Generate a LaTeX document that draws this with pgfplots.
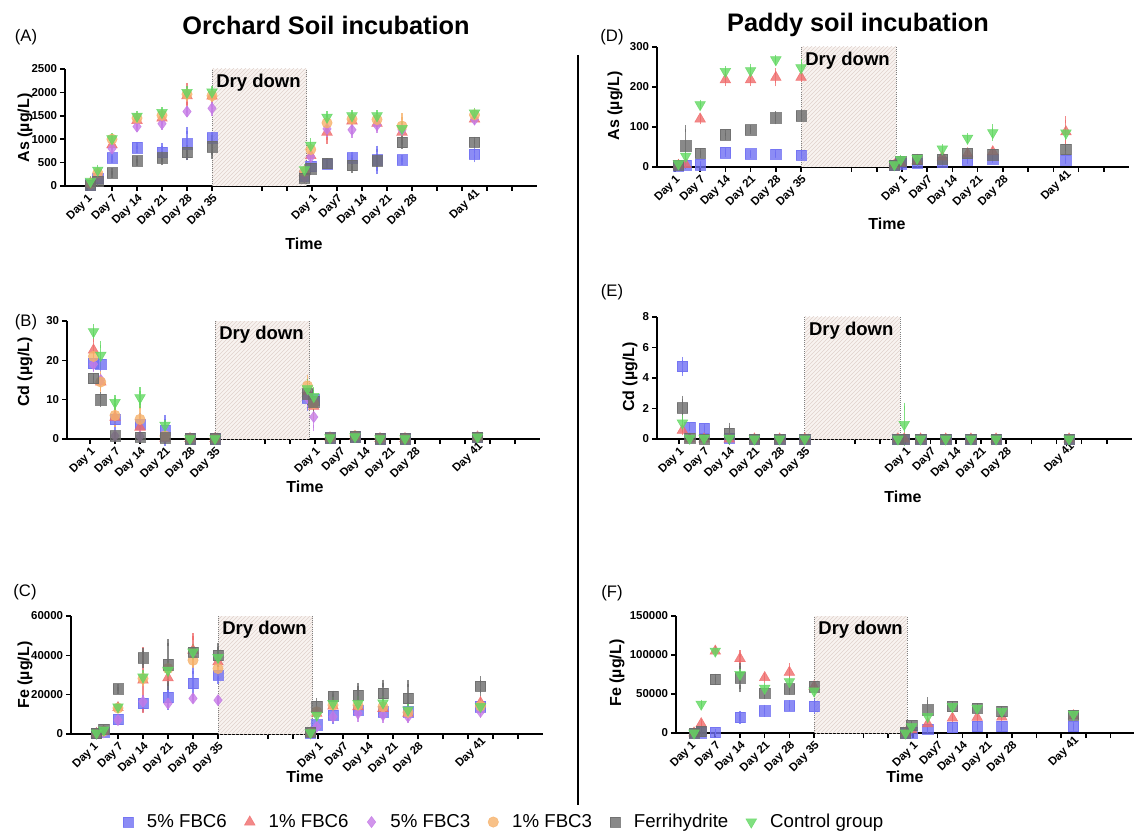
\documentclass[border=0pt]{standalone}
\usepackage{fontspec}
\setmainfont{Liberation Sans}
\usepackage{pgfplots}
\pgfplotsset{compat=1.18}
\usepackage{pgfplotstable}
\usetikzlibrary{patterns}

\definecolor{c1}{HTML}{6F6FF2}
\definecolor{c2}{HTML}{EF6B6B}
\definecolor{c3}{HTML}{C57BE6}
\definecolor{c4}{HTML}{F6B16A}
\definecolor{c5}{HTML}{6B6B6B}
\definecolor{c6}{HTML}{62D862}
\definecolor{drybg}{HTML}{F8F3F0}
\definecolor{hatch}{HTML}{E0D2CC}

\newcommand{\tickfont}{\bfseries\fontsize{8.6}{10}\selectfont}
\newcommand{\labfont}{\bfseries\fontsize{12}{14}\selectfont}
\newcommand{\legfont}{\fontsize{14}{16}\selectfont}
\newcommand{\dryfont}{\bfseries\fontsize{13.9}{16}\selectfont}

% orchard: x, 5% FBC6, 1% FBC6, 5% FBC3, 1% FBC3, Ferrihydrite, Control (value, error)
\pgfplotstableread{
x a ea b eb c ec d ed f ef g eg
1.14 30 20 60 20 40 20 50 20 20 20 100 30
1.43 160 40 250 40 200 30 280 40 100 30 340 40
2 600 40 880 40 800 40 1000 40 280 30 1010 40
3 820 40 1400 50 1270 50 1450 40 540 30 1490 40
4 720 130 1450 60 1330 50 1510 50 600 80 1570 40
5 900 280 1930 200 1590 40 1960 60 720 80 2000 60
6 1030 60 1920 80 1660 100 1930 60 840 180 2010 60
9.7 220 40 300 40 200 40 310 40 170 40 350 40
9.95 420 60 650 80 620 70 780 80 370 60 870 80
10.6 470 40 1150 170 1220 100 1350 80 480 40 1470 50
11.6 600 60 1390 80 1200 90 1430 60 440 90 1500 40
12.6 560 230 1340 100 1300 90 1420 70 540 60 1500 40
13.6 560 30 1150 100 1200 90 1280 200 930 60 1230 80
16.5 680 100 1430 60 1420 40 1520 40 940 40 1560 40
}\tA

\pgfplotstableread{
x a ea b eb c ec d ed f ef g eg
1.14 19.2 1.0 22.6 3.0 19.0 1.0 21.0 1.5 15.4 0.5 27.3 1.0
1.43 19.0 1.0 14.5 1.5 15.0 1.0 14.5 2.0 10.0 1.0 21.3 2.7
2 5.0 2.0 5.5 1.5 0.8 0.2 6.0 2.0 0.8 0.2 9.3 1.0
3 3.8 2.0 3.0 2.0 0.7 0.2 5.0 3.5 0.5 0.2 10.5 1.8
4 2.2 3.0 0.2 0.1 0.3 0.1 0.8 0.5 0.3 0.1 3.5 0.5
5 0.1 0 0.1 0 0.1 0 0.1 0 0.1 0 0.1 0
6 0.1 0 0.1 0 0.1 0 0.1 0 0.1 0 0.1 0
9.7 10.5 2.5 12.0 2.0 10.5 1.5 13.5 2.0 11.5 2.0 12.8 1.5
9.95 10.0 2.0 8.3 2.0 5.6 2.8 9.0 3.0 9.5 2.0 10.8 1.5
10.6 0.3 0 0.3 0 0.3 0 0.3 0 0.3 0 0.3 0
11.6 0.6 0 0.6 0 0.6 0 0.8 0 0.6 0 0.6 0
12.6 0.1 0 0.1 0 0.1 0 0.1 0 0.1 0 0.1 0
13.6 0.1 0 0.1 0 0.1 0 0.1 0 0.1 0 0.1 0
16.5 0.5 0 0.5 0 0.5 0 0.5 0 0.5 0 0.5 0
}\tB

\pgfplotstableread{
x a ea b eb c ec d ed f ef g eg
1.14 300 200 300 200 200 100 300 200 300 200 500 200
1.43 900 300 1200 300 800 300 1500 300 2500 400 2000 400
2 7400 1000 13400 800 7100 800 13200 800 23000 800 13800 800
3 15500 2500 27400 15000 16400 1500 28200 2000 38700 3500 29000 2000
4 18600 4500 28600 2500 15500 1000 33300 2000 35300 11000 32400 2500
5 25700 6500 42600 7000 18100 800 37500 2000 41700 1500 41700 2500
6 29900 2500 36700 2000 17200 500 33300 2000 40000 4300 38900 2000
9.7 500 300 500 300 300 200 700 300 1000 300 700 300
9.95 4600 1000 10500 1500 3700 600 11300 1500 13900 2500 9600 1500
10.6 9600 2500 14200 1500 8800 1000 14700 1500 19300 1000 15500 1500
11.6 12100 2500 13900 1500 10500 2500 14700 1500 19700 4500 15500 2000
12.6 11300 2500 13000 1500 9600 2000 13900 1500 20600 5300 15800 2000
13.6 11300 3000 10500 2000 8800 1500 11000 1500 18100 7500 12200 2000
16.5 13900 1500 15900 1500 11300 1500 14200 1500 24300 3400 14000 1500
}\tC

% paddy: x, 5% FBC6, 1% FBC6, Ferrihydrite, Control (value, error)
\pgfplotstableread{
x a ea b eb f ef g eg
1.14 3 1 4 1 5 2 8 3
1.43 5 1 6 2 53 43 27 5
2 6 1 120 5 35 3 156 4
3 36 2 218 6 81 4 239 5
4 33 2 218 6 93 3 241 9
5 32 2 224 14 123 8 268 4
6 30 2 224 4 128 5 248 14
9.7 4 1 5 1 5 1 6 1
9.95 8 1 10 2 15 3 19 3
10.6 10 2 15 2 19 3 22 3
11.6 12 2 25 3 20 3 45 3
12.6 17 2 33 3 34 3 72 4
13.6 20 2 38 4 31 3 86 12
16.5 17 2 88 30 44 5 85 10
}\tD

\pgfplotstableread{
x a ea b eb f ef g eg
1.14 4.75 0.4 0.57 0.1 2.05 0.55 1.05 0.3
1.43 0.77 0.05 0 0 0.05 0 0.05 0
2 0.7 0.05 0 0 0 0 0.05 0
3 0.05 0 0 0 0.35 0.5 0.05 0
4 0 0 0 0 0 0 0 0
5 0 0 0 0 0 0 0 0
6 0 0 0 0 0 0 0 0
9.7 0 0 0 0 0 0 0 0
9.95 0 0 0 0 0 0 0.95 1.2
10.6 0 0 0 0 0 0 0 0
11.6 0 0 0 0 0 0 0 0
12.6 0 0 0 0 0 0 0 0
13.6 0 0 0 0 0 0 0 0
16.5 0 0 0 0 0 0 0 0
}\tE

\pgfplotstableread{
x a ea b eb f ef g eg
1.14 0 0 0 0 0 0 0 0
1.43 500 300 11900 1000 2000 500 37000 1500
2 800 300 105000 2000 68800 3000 105000 2000
3 20000 4000 95600 6000 71000 14500 75200 3000
4 28500 3500 71000 2000 51000 3000 57400 2000
5 34800 2500 77800 7000 56500 3000 65900 2000
6 34000 5000 59500 2000 59500 2000 54000 2000
9.7 0 0 0 0 500 300 0 0
9.95 500 300 4000 1000 9800 1500 8000 1000
10.6 5100 1000 11900 1500 29700 12000 21200 2000
11.6 7200 1000 19100 1500 34000 2000 34000 2000
12.6 8500 1000 20000 1500 31900 2000 31900 2000
13.6 8500 1000 20400 1500 27600 2000 27600 2000
16.5 8500 1000 22100 1500 23000 1500 24000 1500
}\tF

\pgfplotsset{
  panel/.style={
    scale only axis, anchor=south west,
    axis lines=left,
    axis line style={-, line width=1.5pt},
    every tick/.style={black, line width=1.2pt},
    major tick length=3.75pt,
    tick align=outside,
    scaled y ticks=false,
    ymin=0, xmax=19, clip=false,
    xtick={1,2,3,4,5,6,8,9,10,11,12,13,14,15,16,17,18},
    xticklabels={Day 1,Day 7,Day 14,Day 21,Day 28,Day 35,,,Day 1,Day7,Day 14,Day 21,Day 28,,,,},
    extra x ticks={16.5}, extra x tick labels={Day 41},
    extra x tick style={major tick length=0pt},
    xticklabel style={rotate=45, anchor=north east, font=\tickfont, inner sep=1pt},
    yticklabel style={font=\tickfont, inner sep=2pt},
    legend image code/.code={\path (0pt,0pt) (18pt,0pt);
      \draw[mark repeat=2,mark phase=2,#1] plot coordinates {(0pt,0pt) (6pt,0pt) (16pt,0pt)};},
  },
  eb/.style={error bars/.cd, y dir=both, y explicit,
    error bar style={line width=0.8pt, opacity=0.8},
    error mark options={line width=0.8pt, mark size=2.6pt, opacity=0.8}},
  s1/.style={only marks, color=c1, mark=square*, mark size=3.9pt, mark options={opacity=0.8}, eb},
  s2/.style={only marks, color=c2, mark=triangle*, mark size=4.6pt, mark options={opacity=0.8}, eb},
  s3/.style={only marks, color=c3, mark=diamond*, mark size=4.2pt, mark options={opacity=0.8}, eb},
  s4/.style={only marks, color=c4, mark=*, mark size=3.9pt, mark options={opacity=0.8}, eb},
  s5/.style={only marks, color=c5, mark=square*, mark size=3.9pt, mark options={opacity=0.8}, eb},
  s6/.style={only marks, color=c6, mark=triangle*, mark size=4.6pt, mark options={rotate=180, opacity=0.8}, eb},
}

\newcommand{\drybox}[2]{%
  \fill[drybg] (axis cs:6,0) rectangle (axis cs:9.78,#1);
  \fill[pattern=north east lines, pattern color=hatch] (axis cs:6,0) rectangle (axis cs:9.78,#1);
  \draw[densely dotted, gray, line width=0.6pt] (axis cs:6,0) -- (axis cs:6,#1) (axis cs:9.78,0) -- (axis cs:9.78,#1);
  \node[anchor=base west, inner sep=0pt, font=\dryfont, xshift=3pt, yshift=-#2] at (axis cs:6,#1) {Dry down};
}

\begin{document}
\begin{tikzpicture}
\useasboundingbox (0,0) rectangle (850.5pt,-625.5pt);

% (A) orchard As
\begin{axis}[panel, at={(48.75pt,-139.5pt)}, width=354pt, height=87.75pt,
  xmin=0.12, ymax=2500, ytick={0,500,1000,1500,2000,2500},
  yticklabels={0,500,1000,1500,2000,2500}]
  \drybox{2500}{14pt}
  \addplot[s1] table[x=x, y=a, y error=ea] {\tA};
  \addplot[s2] table[x=x, y=b, y error=eb] {\tA};
  \addplot[s3] table[x=x, y=c, y error=ec] {\tA};
  \addplot[s4] table[x=x, y=d, y error=ed] {\tA};
  \addplot[s5] table[x=x, y=f, y error=ef] {\tA};
  \addplot[s6] table[x=x, y=g, y error=eg] {\tA};
\end{axis}

% (B) orchard Cd
\begin{axis}[panel, at={(50.25pt,-329.25pt)}, width=354.75pt, height=88.5pt,
  xmin=0.08, ymax=30, ytick={0,10,20,30}, yticklabels={0,10,20,30}]
  \drybox{30}{14pt}
  \addplot[s1] table[x=x, y=a, y error=ea] {\tB};
  \addplot[s2] table[x=x, y=b, y error=eb] {\tB};
  \addplot[s3] table[x=x, y=c, y error=ec] {\tB};
  \addplot[s4] table[x=x, y=d, y error=ed] {\tB};
  \addplot[s5] table[x=x, y=f, y error=ef] {\tB};
  \addplot[s6] table[x=x, y=g, y error=eg] {\tB};
\end{axis}

% (C) orchard Fe, carries the legend
\begin{axis}[panel, at={(53.25pt,-550.5pt)}, width=354pt, height=88.5pt,
  xmin=0.12, ymax=60000, ytick={0,20000,40000,60000},
  yticklabels={0,20000,40000,60000},
  legend style={at={(0.915,-0.746)}, anchor=center, draw=none, fill=none,
    legend columns=6, font=\legfont,
    /tikz/every even column/.append style={column sep=9pt}}]
  \drybox{60000}{14pt}
  \addplot[s1] table[x=x, y=a, y error=ea] {\tC};
  \addlegendentry{5\% FBC6}
  \addplot[s2] table[x=x, y=b, y error=eb] {\tC};
  \addlegendentry{1\% FBC6}
  \addplot[s3] table[x=x, y=c, y error=ec] {\tC};
  \addlegendentry{5\% FBC3}
  \addplot[s4] table[x=x, y=d, y error=ed] {\tC};
  \addlegendentry{1\% FBC3}
  \addplot[s5] table[x=x, y=f, y error=ef] {\tC};
  \addlegendentry{Ferrihydrite}
  \addplot[s6] table[x=x, y=g, y error=eg] {\tC};
  \addlegendentry{Control group}
\end{axis}

% (D) paddy As
\begin{axis}[panel, at={(492.75pt,-125.25pt)}, width=354pt, height=90pt,
  xmin=0.29, ymax=300, ytick={0,100,200,300}, yticklabels={0,100,200,300}]
  \drybox{300}{14pt}
  \addplot[s1] table[x=x, y=a, y error=ea] {\tD};
  \addplot[s2] table[x=x, y=b, y error=eb] {\tD};
  \addplot[s5] table[x=x, y=f, y error=ef] {\tD};
  \addplot[s6] table[x=x, y=g, y error=eg] {\tD};
\end{axis}

% (E) paddy Cd
\begin{axis}[panel, at={(492.75pt,-329.25pt)}, width=356.25pt, height=91.5pt,
  xmin=0.13, ymax=8, ytick={0,2,4,6,8}, yticklabels={0,2,4,6,8}]
  \drybox{8}{14pt}
  \addplot[s1] table[x=x, y=a, y error=ea] {\tE};
  \addplot[s2] table[x=x, y=b, y error=eb] {\tE};
  \addplot[s5] table[x=x, y=f, y error=ef] {\tE};
  \addplot[s6] table[x=x, y=g, y error=eg] {\tE};
\end{axis}

% (F) paddy Fe
\begin{axis}[panel, at={(507pt,-549.75pt)}, width=343.5pt, height=87.75pt,
  xmin=0.41, xmax=18.95, ymax=150000, ytick={0,50000,100000,150000},
  yticklabels={0,50000,100000,150000}]
  \drybox{150000}{14pt}
  \addplot[s1] table[x=x, y=a, y error=ea] {\tF};
  \addplot[s2] table[x=x, y=b, y error=eb] {\tF};
  \addplot[s5] table[x=x, y=f, y error=ef] {\tF};
  \addplot[s6] table[x=x, y=g, y error=eg] {\tF};
\end{axis}

% titles, panel letters, axis titles
\node[font=\bfseries\fontsize{19}{21}\selectfont] at (244.5pt,-18.75pt) {Orchard Soil incubation};
\node[font=\bfseries\fontsize{19}{21}\selectfont] at (643.5pt,-18.75pt) {Paddy soil incubation};
\begin{scope}[every node/.style={font=\fontsize{12.5}{14}\selectfont}]
  \node at (19.5pt,-27.75pt) {(A)};
  \node at (19.5pt,-241.5pt) {(B)};
  \node at (18.75pt,-444pt) {(C)};
  \node at (459pt,-27.75pt) {(D)};
  \node at (459pt,-219pt) {(E)};
  \node at (459pt,-444.75pt) {(F)};
\end{scope}
\begin{scope}[every node/.style={font=\labfont}]
  \node[rotate=90] at (18.75pt,-96pt) {As (µg/L)};
  \node[rotate=90] at (18.75pt,-279pt) {Cd (µg/L)};
  \node[rotate=90] at (18.75pt,-506.25pt) {Fe (µg/L)};
  \node[rotate=90] at (461.25pt,-79.5pt) {As (µg/L)};
  \node[rotate=90] at (472.5pt,-282.75pt) {Cd (µg/L)};
  \node[rotate=90] at (462.75pt,-504.75pt) {Fe (µg/L)};
  \node at (228pt,-183pt) {Time};
  \node at (228.75pt,-365.25pt) {Time};
  \node at (228.75pt,-582.75pt) {Time};
  \node at (665.25pt,-168pt) {Time};
  \node at (677.25pt,-372.75pt) {Time};
  \node at (678.75pt,-582.75pt) {Time};
\end{scope}
\draw[line width=1.9pt] (433.5pt,-41.25pt) -- (433.5pt,-603.75pt);
\end{tikzpicture}
\end{document}
